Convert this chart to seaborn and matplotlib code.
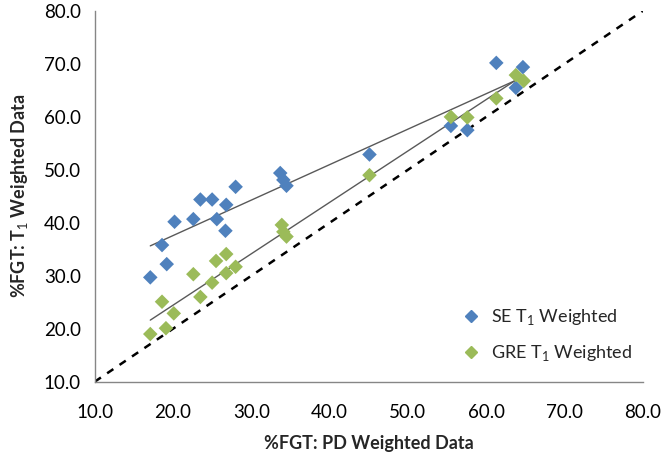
import numpy as np
import pandas as pd
import seaborn as sns
import matplotlib.pyplot as plt

# %FGT
se_pd = [17.1, 19.2, 18.6, 20.2, 22.6, 23.5, 25.0, 25.6, 26.8, 26.7,
         28.0, 33.7, 34.1, 34.5, 45.1, 55.5, 57.6, 61.3, 64.7, 63.8]
se_t1 = [29.7, 32.2, 35.8, 40.2, 40.7, 44.4, 44.4, 40.7, 43.4, 38.5,
         46.8, 49.4, 48.1, 47.0, 52.9, 58.3, 57.5, 70.2, 69.4, 65.5]
gre_pd = [17.1, 18.6, 19.1, 20.1, 22.6, 23.5, 25.0, 25.5, 26.8, 26.8,
          28.0, 33.9, 34.1, 34.5, 45.1, 55.5, 57.6, 61.3, 63.8, 64.8]
gre_t1 = [19.0, 25.1, 20.1, 22.9, 30.3, 26.0, 28.7, 32.8, 34.1, 30.5,
          31.7, 39.6, 38.3, 37.4, 49.0, 60.0, 59.9, 63.5, 67.9, 66.8]
series_names = ['SE T$_1$ Weighted', 'GRE T$_1$ Weighted']
series_colors = ['#4F81BD', '#9BBB59']
ticks = [10, 20, 30, 40, 50, 60, 70, 80]

df = pd.DataFrame({
    'pd': se_pd + gre_pd,
    't1': se_t1 + gre_t1,
    'series': [series_names[0]] * len(se_pd) + [series_names[1]] * len(gre_pd),
})

sns.set_theme(style='white')
plt.rcParams['font.family'] = ['Lato', 'DejaVu Sans']
plt.rcParams['mathtext.fontset'] = 'custom'
plt.rcParams['mathtext.rm'] = 'Lato'

fig = plt.figure(figsize=(6.66, 4.58), dpi=100)
ax = fig.add_axes([0.1422, 0.1666, 0.8228, 0.8094])

# identity line
ax.plot([ticks[0], ticks[-1]], [ticks[0], ticks[-1]], color='black',
        linestyle=(0, (3, 3)), linewidth=1.8, zorder=1)

sns.scatterplot(data=df, x='pd', y='t1', hue='series', palette=series_colors,
                marker='D', s=55, edgecolor='none', ax=ax, zorder=3, legend=False)

for xs, ys in [(se_pd, se_t1), (gre_pd, gre_t1)]:
    sns.regplot(x=np.array(xs), y=np.array(ys), scatter=False, ci=None, truncate=True,
                color='#595959', line_kws={'linewidth': 1.0, 'zorder': 2}, ax=ax)

ax.set_xlim(ticks[0], ticks[-1])
ax.set_ylim(ticks[0], ticks[-1])
ax.set_xticks(ticks)
ax.set_yticks(ticks)
ax.set_xticklabels(['%.1f' % t for t in ticks])
ax.set_yticklabels(['%.1f' % t for t in ticks])
ax.tick_params(axis='both', which='major', labelsize=13.5, length=5, width=1,
               color='#868686', direction='out', pad=5, labelcolor='black')
ax.tick_params(axis='x', pad=11)
sns.despine(ax=ax)
for s in ['left', 'bottom']:
    ax.spines[s].set_color('#868686')
    ax.spines[s].set_linewidth(1)

ax.set_xlabel('%FGT: PD Weighted Data', fontsize=13, fontweight='bold', labelpad=10)
ax.set_ylabel('%FGT: T$_1$ Weighted Data', fontsize=13, fontweight='bold', labelpad=10)

handles = [plt.Line2D([], [], marker='D', linestyle='none', color=c, markersize=6)
           for c in series_colors]
ax.legend(handles, series_names, loc='lower right', bbox_to_anchor=(1.0, 0.02),
          frameon=False, fontsize=13, handlelength=1.0, handletextpad=0.6,
          labelspacing=0.9, borderaxespad=0.2)

fig.savefig('out.png', dpi=100)
